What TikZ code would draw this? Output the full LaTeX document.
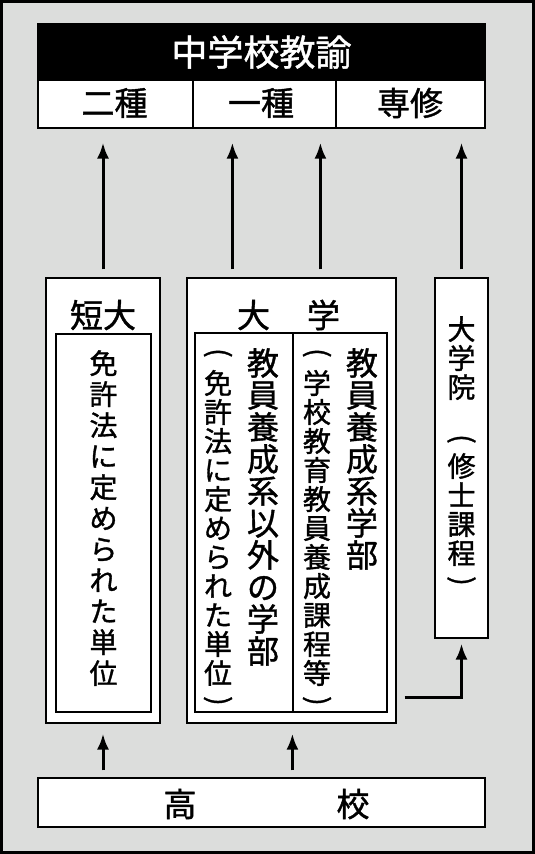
\documentclass[tikz,border=0pt]{standalone}
\usepackage{fontspec}
\setmainfont{Noto Sans CJK JP}[FakeBold=1.2]
\usetikzlibrary{arrows.meta,positioning,calc}
\definecolor{panelgray}{RGB}{220,221,220}
% brackets for the upright columns
\newcommand{\vlp}{\rotatebox[origin=c]{-90}{(}}
\newcommand{\vrp}{\rotatebox[origin=c]{-90}{)}}
\tikzset{
	>=Latex,
	box/.style={draw, fill=white, line width=1.2pt, inner sep=0pt},
	label/.style={inner sep=0pt, font=\fontsize{33}{33}\selectfont},
	vmain/.style={inner sep=0pt, anchor=north, align=center, font=\fontsize{32}{32}\selectfont},
	vsub/.style={inner sep=0pt, anchor=north, align=center, font=\fontsize{28}{29}\selectfont},
	arr/.style={-{Latex[length=16pt,width=12pt]}, line width=3pt}
}

\begin{document}
\begin{tikzpicture}[x=1pt,y=-1pt]
		\useasboundingbox (0,0) rectangle (535,854);
		
		% gray panel
		\draw[line width=2.5pt, fill=panelgray] (1.5,1.5) rectangle (533.5,852.5);
		
		% licence on top
		\node[box, fill=black, minimum width=447pt, minimum height=56pt,
		text=white, font=\fontsize{36}{36}\selectfont] (kyoyu) at (261.5,52) {中学校教諭};
		\node[box, minimum width=155pt, minimum height=48pt] (nishu) at (115.5,104) {};
		\node[box, minimum width=143pt, minimum height=48pt] (isshu) at (264.5,104) {};
		\node[box, minimum width=149pt, minimum height=48pt] (senshu) at (410.5,104) {};
		\node[label] (nishutxt) at (114.5,103) {二種};
		\node[label] (isshutxt) at (261,103) {一種};
		\node[label] (senshutxt) at (410,103) {専修};
		
		% schools
		\node[box, minimum width=114pt, minimum height=445pt] (tandai) at (103,500.5) {};
		\node[box, minimum width=95pt, minimum height=378pt] (tandaiin) at (103.5,523) {};
		\node[label] (tandaitxt) at (103,315) {短大};
		\node[vsub, font=\fontsize{28}{31}\selectfont] (tandaiunit) at (103.5,350)
		{免\\許\\法\\に\\定\\め\\ら\\れ\\た\\単\\位};
		
		\node[box, minimum width=209pt, minimum height=445pt] (daigaku) at (291.5,500.5) {};
		\node[box, minimum width=98pt, minimum height=379pt] (daigakuL) at (244,522.5) {};
		\node[box, minimum width=94pt, minimum height=379pt] (daigakuR) at (340,522.5) {};
		\node[label] (daigakutxt) at (288.5,315) {大\hspace{37pt}学};
		\node[vmain] (kyoinR) at (362,348) {教\\員\\養\\成\\系\\学\\部};
		\node[vsub] (kateiR) at (317,348) {\vlp\\[3pt]学\\校\\教\\育\\教\\員\\養\\成\\課\\程\\等\\[-3pt]\vrp};
		\node[vmain] (kyoinL) at (263,348) {教\\員\\養\\成\\系\\以\\外\\の\\学\\部};
		\node[vsub] (unitL) at (218,348) {\vlp\\[3pt]免\\許\\法\\に\\定\\め\\ら\\れ\\た\\単\\位\\[-3pt]\vrp};
		
		\node[box, minimum width=53pt, minimum height=360pt] (daigakuin) at (461.5,458) {};
		\node[vsub] (daigakuintxt) at (461.5,316)
		{大\\学\\院\\[21pt]\vlp\\修\\士\\課\\程\\[-3pt]\vrp};
		
		\node[box, minimum width=447pt, minimum height=49pt] (koko) at (261.5,802.5) {};
		\node[label] (kokotxt) at (266.5,804) {高\hspace{140pt}校};
		
		% arrows up to the licences
		\draw[arr, shorten <=8pt, shorten >=14pt] (tandai.north) -- (tandai.north |- nishu.south);
		\draw[arr, shorten <=8pt, shorten >=14pt] ([xshift=46pt]daigaku.north west) -- ([xshift=46pt]daigaku.north west |- isshu.south);
		\draw[arr, shorten <=8pt, shorten >=14pt] ([xshift=134pt]daigaku.north west) -- ([xshift=134pt]daigaku.north west |- isshu.south);
		\draw[arr, shorten <=8pt, shorten >=14pt] (daigakuin.north) -- (daigakuin.north |- senshu.south);
		
		% graduate school
		\draw[arr, shorten >=5pt] ([xshift=8pt,yshift=26pt]daigaku.south east) -| (daigakuin.south);
		
		% from high school
		\draw[arr, shorten <=7pt, shorten >=10pt] (koko.north -| tandai.south) -- (tandai.south);
		\draw[arr, shorten <=7pt, shorten >=10pt] (koko.north -| daigakuR.south west) -- (daigakuR.south west |- daigaku.south);
		
	\end{tikzpicture}
\end{document}
